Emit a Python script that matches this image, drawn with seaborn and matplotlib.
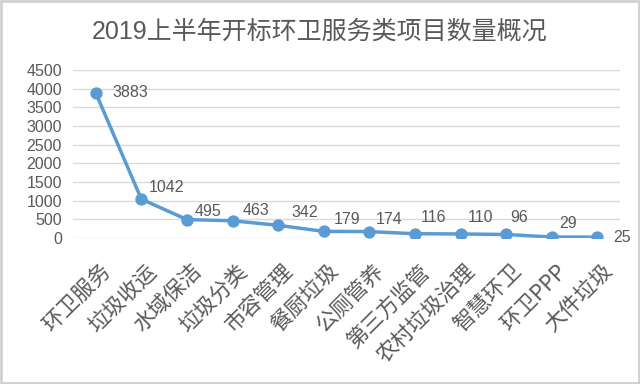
import matplotlib
matplotlib.use("Agg")
import matplotlib.pyplot as plt
import matplotlib.transforms as mtransforms
import seaborn as sns
import pandas as pd
from matplotlib.patches import Rectangle

title = "2019上半年开标环卫服务类项目数量概况"
categories = ["环卫服务", "垃圾收运", "水域保洁", "垃圾分类", "市容管理", "餐厨垃圾",
              "公厕管养", "第三方监管", "农村垃圾治理", "智慧环卫", "环卫PPP", "大件垃圾"]
values = [3883, 1042, 495, 463, 342, 179, 174, 116, 110, 96, 29, 25]
y_ticks = [0, 500, 1000, 1500, 2000, 2500, 3000, 3500, 4000, 4500]

sns.set_theme(style="white")
plt.rcParams['font.family'] = ['Liberation Sans', 'Noto Sans CJK SC', 'DejaVu Sans']

df = pd.DataFrame({"cat": categories, "val": values})

fig = plt.figure(figsize=(6.4, 3.84), dpi=100)
ax = fig.add_axes([0.114, 0.380, 0.855, 0.438])

line_color = "#5B9BD5"
text_color = "#595959"

for t in y_ticks:
    ax.axhline(t, color="#D9D9D9", lw=1, zorder=0)

sns.pointplot(data=df, x="cat", y="val", color=line_color, errorbar=None,
              markers="o", linestyles="-", ax=ax, linewidth=2.5, markersize=7)

ax.set_xlim(-0.5, len(categories) - 0.5)
ax.set_ylim(0, 4500)
ax.set_yticks(y_ticks)
ax.set_yticklabels([str(t) for t in y_ticks], fontsize=11.5, color=text_color,
                   family=['Liberation Sans'])
ax.set_xticks(range(len(categories)))
ax.set_xticklabels(categories, rotation=45, ha="right", va="top", rotation_mode="anchor",
                   fontsize=15.5, color=text_color,
                   family=['Noto Sans CJK SC', 'Liberation Sans'])
ax.tick_params(axis='x', length=0, pad=0)
ax.tick_params(axis='y', length=0, pad=8)
shift = mtransforms.ScaledTranslation(4 / 100, -22 / 100, fig.dpi_scale_trans)
for lbl in ax.get_xticklabels():
    lbl.set_transform(lbl.get_transform() + shift)
ax.set_xlabel("")
ax.set_ylabel("")
for s in ax.spines.values():
    s.set_visible(False)

# label offsets in pixels (right, up)
offsets = [(17, 0), (7, 12), (8, 8), (10, 10), (13, 13), (10, 12),
           (6, 12), (6, 16), (7, 16), (4, 17), (7, 13), (16, 0)]
for i, v in enumerate(values):
    dx, dy = offsets[i]
    ax.annotate(str(v), (i, v), xytext=(dx, dy), textcoords="offset pixels",
                ha="left", va="center", fontsize=11.5, color=text_color,
                family=['Liberation Sans'])

fig.text(0.5, 0.918, title, ha="center", va="center", fontsize=18,
         color=text_color, family=['Liberation Sans', 'Noto Sans CJK SC'])

fig.patches.append(Rectangle((0.002, 0.003), 0.996, 0.994, transform=fig.transFigure,
                             fill=False, edgecolor="#D0D0D0", lw=2))

fig.savefig("out.png", dpi=100)
